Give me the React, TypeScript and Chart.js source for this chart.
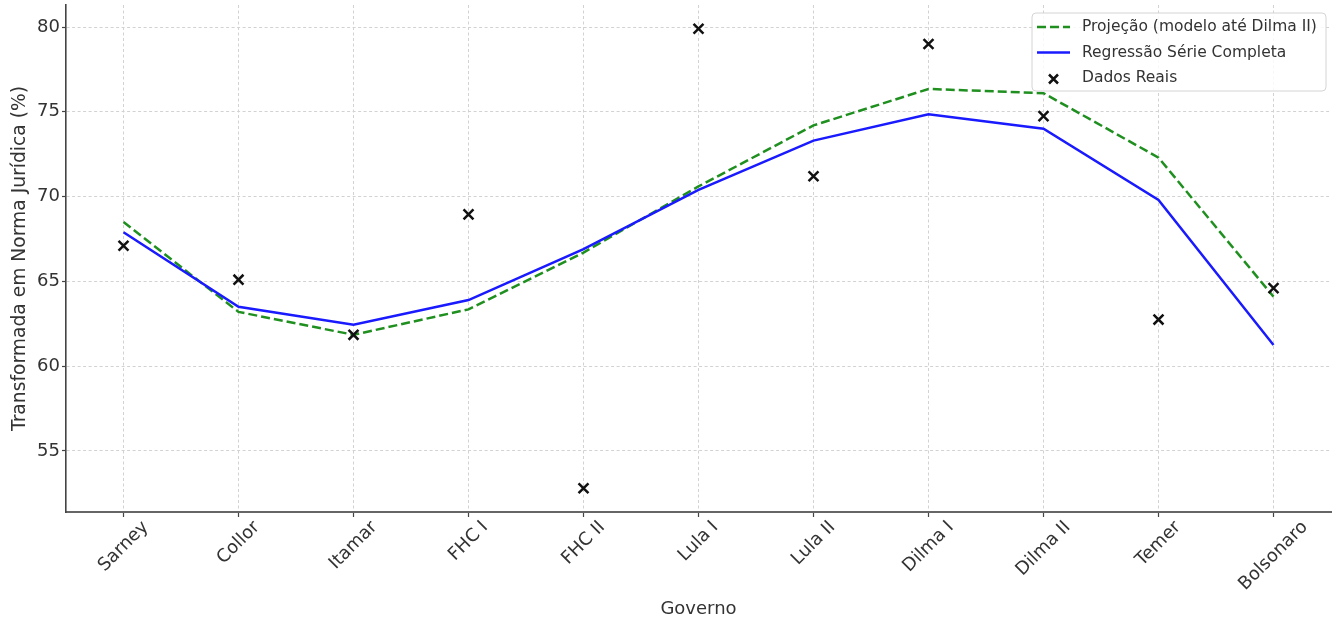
import React, { useEffect, useRef } from 'react';
import { Chart, registerables } from 'chart.js';

Chart.register(...registerables);

const governos = ['Sarney', 'Collor', 'Itamar', 'FHC I', 'FHC II', 'Lula I', 'Lula II', 'Dilma I', 'Dilma II', 'Temer', 'Bolsonaro'];
const projecao = [68.5, 63.2, 61.85, 63.35, 66.7, 70.6, 74.2, 76.35, 76.1, 72.3, 64.1];
const regressao = [67.9, 63.5, 62.45, 63.9, 66.9, 70.4, 73.3, 74.85, 74.0, 69.8, 61.25];
const dadosReais = [67.1, 65.1, 61.85, 68.95, 52.8, 79.9, 71.2, 79.0, 74.75, 62.75, 64.6];
const yTickValues = [55, 60, 65, 70, 75, 80];
const Y_MIN = 51.4;
const Y_MAX = 81.3;

const FONT = "'DejaVu Sans', sans-serif";
const TEXT = '#333333';
const GREEN = '#1f8f1f';
const BLUE = '#1a1aff';
const BLACK = '#111111';
const GRID = '#d2d2d2';

function drawX(ctx: CanvasRenderingContext2D, x: number, y: number, half: number, color: string, lw: number) {
  ctx.save();
  ctx.strokeStyle = color;
  ctx.lineWidth = lw;
  ctx.setLineDash([]);
  ctx.beginPath();
  ctx.moveTo(x - half, y - half);
  ctx.lineTo(x + half, y + half);
  ctx.moveTo(x - half, y + half);
  ctx.lineTo(x + half, y - half);
  ctx.stroke();
  ctx.restore();
}

const xLabelsPlugin = {
  id: 'rotatedXLabels',
  afterDraw(chart: any) {
    const scale = chart.scales.x;
    const ctx = chart.ctx as CanvasRenderingContext2D;
    ctx.save();
    ctx.font = `18px ${FONT}`;
    ctx.fillStyle = TEXT;
    ctx.textAlign = 'center';
    ctx.textBaseline = 'middle';
    const top = scale.top + 6;
    scale.ticks.forEach((t: any, i: number) => {
      const label = String(scale.getLabelForValue(t.value));
      const px = scale.getPixelForTick(i);
      const w = ctx.measureText(label).width;
      const half = (w + 18) / (2 * Math.SQRT2);
      ctx.save();
      ctx.translate(px, top + half);
      ctx.rotate(-Math.PI / 4);
      ctx.fillText(label, 0, 0);
      ctx.restore();
    });
    ctx.restore();
  },
};

const legendPlugin = {
  id: 'mplLegend',
  afterDraw(chart: any) {
    const ctx = chart.ctx as CanvasRenderingContext2D;
    const area = chart.chartArea;
    const w = 294;
    const h = 78;
    const x0 = area.right - 5 - w;
    const y0 = area.top + 8;
    ctx.save();
    ctx.beginPath();
    const r = 4;
    ctx.moveTo(x0 + r, y0);
    ctx.lineTo(x0 + w - r, y0);
    ctx.arcTo(x0 + w, y0, x0 + w, y0 + r, r);
    ctx.lineTo(x0 + w, y0 + h - r);
    ctx.arcTo(x0 + w, y0 + h, x0 + w - r, y0 + h, r);
    ctx.lineTo(x0 + r, y0 + h);
    ctx.arcTo(x0, y0 + h, x0, y0 + h - r, r);
    ctx.lineTo(x0, y0 + r);
    ctx.arcTo(x0, y0, x0 + r, y0, r);
    ctx.closePath();
    ctx.fillStyle = 'rgba(255,255,255,0.85)';
    ctx.fill();
    ctx.strokeStyle = '#d4d4d4';
    ctx.lineWidth = 1;
    ctx.stroke();

    ctx.font = `15.5px ${FONT}`;
    ctx.textAlign = 'left';
    ctx.textBaseline = 'middle';
    chart.data.datasets.forEach((ds: any, i: number) => {
      const cy = y0 + 14 + i * 25.5;
      const sx0 = x0 + 5;
      const sx1 = x0 + 38;
      if (ds.showLine === false) {
        drawX(ctx, (sx0 + sx1) / 2, cy + 1, 4.5, ds.pointBorderColor, 2.5);
      } else {
        ctx.save();
        ctx.strokeStyle = ds.borderColor;
        ctx.lineWidth = ds.borderWidth;
        ctx.setLineDash(ds.borderDash || []);
        ctx.beginPath();
        ctx.moveTo(sx0, cy);
        ctx.lineTo(sx1, cy);
        ctx.stroke();
        ctx.restore();
      }
      ctx.fillStyle = TEXT;
      ctx.fillText(ds.label, x0 + 50, cy);
    });
    ctx.restore();
  },
};

export default function App() {
  const canvasRef = useRef<HTMLCanvasElement | null>(null);

  useEffect(() => {
    const canvas = canvasRef.current;
    if (!canvas) return;
    Chart.defaults.font.family = FONT;
    const chart = new Chart(canvas, {
      type: 'line',
      data: {
        labels: governos,
        datasets: [
          {
            label: 'Projeção (modelo até Dilma II)',
            data: projecao,
            borderColor: GREEN,
            backgroundColor: GREEN,
            borderDash: [9, 4],
            borderWidth: 2.5,
            pointRadius: 0,
            tension: 0,
            fill: false,
            order: 2,
          },
          {
            label: 'Regressão Série Completa',
            data: regressao,
            borderColor: BLUE,
            backgroundColor: BLUE,
            borderWidth: 2.5,
            pointRadius: 0,
            tension: 0,
            fill: false,
            order: 1,
          },
          {
            label: 'Dados Reais',
            data: dadosReais,
            showLine: false,
            pointStyle: 'crossRot',
            pointRadius: 7,
            pointBorderWidth: 2.5,
            borderColor: BLACK,
            pointBorderColor: BLACK,
            pointBackgroundColor: BLACK,
            order: 0,
          },
        ],
      } as any,
      options: {
        responsive: false,
        maintainAspectRatio: false,
        animation: false,
        layout: { autoPadding: false, padding: { top: 5, right: 2, left: 0, bottom: 0 } },
        plugins: {
          legend: { display: false },
          tooltip: { enabled: false },
        },
        scales: {
          x: {
            type: 'category',
            offset: true,
            grid: {
              color: GRID,
              lineWidth: 1,
              drawTicks: true,
              tickLength: 5,
              tickColor: '#444',
              tickWidth: 1.2,
            },
            border: { display: true, color: '#666', width: 2, dash: [3, 2.5] },
            ticks: { display: false, autoSkip: false },
            title: {
              display: true,
              text: 'Governo',
              color: TEXT,
              font: { size: 18, family: FONT },
              padding: { top: 0, bottom: 0 },
            },
            afterFit: (s: any) => {
              s.height = 108;
              s.paddingLeft = 0;
              s.paddingRight = 0;
            },
          },
          y: {
            type: 'linear',
            min: Y_MIN,
            max: Y_MAX,
            afterBuildTicks: (s: any) => {
              s.ticks = yTickValues.map((v) => ({ value: v }));
            },
            grid: {
              color: GRID,
              lineWidth: 1,
              drawTicks: true,
              tickLength: 4,
              tickColor: '#444',
              tickWidth: 1.2,
            },
            border: { display: true, color: '#444', width: 1.6, dash: [3, 2.5] },
            ticks: {
              color: TEXT,
              font: { size: 18, family: FONT },
              padding: 2,
            },
            title: {
              display: true,
              text: 'Transformada em Norma Jurídica (%)',
              color: TEXT,
              font: { size: 18.7, family: FONT },
              padding: { top: 9, bottom: 0 },
            },
            afterFit: (s: any) => {
              s.width = 66;
              s.paddingTop = 0;
              s.paddingBottom = 0;
            },
          },
        },
      } as any,
      plugins: [xLabelsPlugin, legendPlugin],
    });
    return () => chart.destroy();
  }, []);

  return (
    <div style={{ position: 'fixed', left: 0, top: 0, width: 1333, height: 620, background: '#fff' }}>
      <canvas ref={canvasRef} width={1333} height={620} style={{ display: 'block', width: 1333, height: 620 }} />
    </div>
  );
}
